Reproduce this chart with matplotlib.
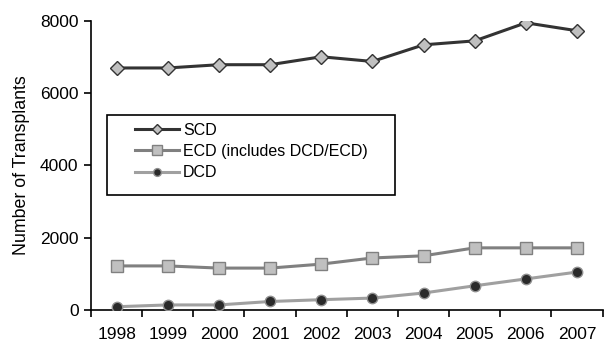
import matplotlib
matplotlib.use("Agg")
import matplotlib.pyplot as plt
from matplotlib.patches import Rectangle
import numpy as np

plt.rcParams['font.family'] = ['Liberation Sans', 'DejaVu Sans']

years = ["1998", "1999", "2000", "2001", "2002", "2003", "2004", "2005", "2006", "2007"]
scd = [6700, 6700, 6790, 6790, 7010, 6880, 7340, 7450, 7950, 7730]
ecd = [1220, 1220, 1160, 1160, 1270, 1440, 1500, 1720, 1720, 1720]
dcd = [90, 140, 140, 235, 285, 330, 470, 670, 860, 1050]
yticks = [0, 2000, 4000, 6000, 8000]

fig = plt.figure(figsize=(6.04, 3.42), dpi=100)
ax = fig.add_axes([0.1507, 0.0936, 0.847, 0.845])
x = np.arange(len(years))

ax.plot(x, scd, color='#333333', lw=2.2, marker='D', ms=7, mfc='#c0c0c0', mec='#333333', mew=1.0,
        label='SCD', zorder=3)
ax.plot(x, ecd, color='#808080', lw=2.2, marker='s', ms=9, mfc='#c0c0c0', mec='#808080', mew=1.0,
        label='ECD (includes DCD/ECD)', zorder=3)
ax.plot(x, dcd, color='#a0a0a0', lw=2.2, marker='o', ms=7.5, mfc='#2a2a2a', mec='#909090', mew=1.0,
        label='DCD', zorder=3)

ax.set_xlim(-0.5, len(years) - 0.5)
ax.set_ylim(0, 8000)
ax.set_yticks(yticks)
ax.set_yticklabels([str(v) for v in yticks], fontsize=12.5)
ax.set_xticks(x)
ax.set_xticklabels(years, fontsize=12.5)
ax.set_xticks(np.arange(-0.5, len(years)), minor=True)
ax.tick_params(axis='x', which='major', length=0, pad=12)
ax.tick_params(axis='x', which='minor', length=5, width=1.2, direction='out')
ax.tick_params(axis='y', length=5, width=1.2, direction='out', pad=4)
ax.spines['top'].set_visible(False)
ax.spines['right'].set_visible(False)
ax.spines['left'].set_linewidth(1.2)
ax.spines['bottom'].set_linewidth(1.2)
ax.set_ylabel('Number of Transplants', fontsize=12.8, labelpad=7)

# legend frame
ax.add_patch(Rectangle((0.0313, 0.398), 0.5627, 0.277, transform=ax.transAxes,
                       fill=True, facecolor='white', edgecolor='black', lw=1.2, zorder=4))
leg = ax.legend(loc='upper left', bbox_to_anchor=(0.086, 0.647), fontsize=11.5, frameon=False,
                handlelength=2.75, borderpad=0.0, borderaxespad=0.0,
                labelspacing=0.38, handletextpad=0.25, markerscale=0.75)
leg.set_zorder(5)

fig.savefig('out.png', dpi=100)
